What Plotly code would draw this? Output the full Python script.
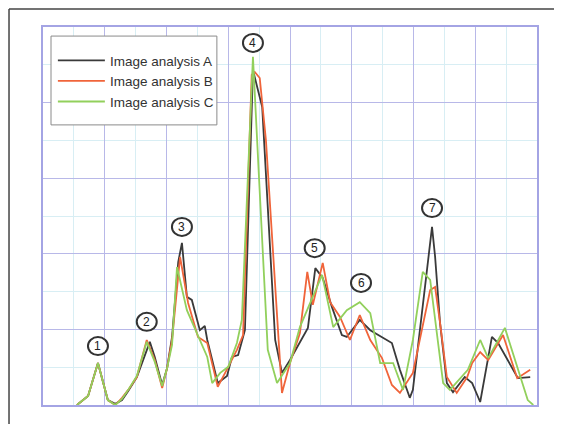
import plotly.graph_objects as go

# ---- data (x: 0..80 horizontal units, y: 0..100 signal units) ----
names = ["Image analysis A", "Image analysis B", "Image analysis C"]

a_x = [5.5, 7.3, 8.9, 10.5, 11.7, 12.8, 13.8, 15.2, 17.3, 18.1, 19.3, 20.1, 20.9, 21.9, 22.5,
       23.3, 24.1, 24.9, 25.4, 26.2, 26.6, 27.4, 28.3, 29.8, 30.6, 31.6, 32.7, 34.0, 35.5, 37.6,
       38.7, 40.0, 42.9, 44.1, 45.3, 46.8, 48.4, 49.2, 51.3, 53.0, 55.7, 56.5, 57.8, 59.4, 59.9,
       62.2, 63.0, 63.5, 64.3, 65.4, 66.4, 68.3, 69.5, 70.8, 72.1, 72.7, 73.7, 76.4, 76.9, 78.9]
a_y = [0, 2.4, 11.1, 1.3, 0.3, 1.3, 3.7, 7.4, 16.7, 12.7, 5.3, 9.8, 18.0, 37.8, 42.9,
       28.6, 27.8, 23.3, 19.8, 20.9, 17.2, 11.9, 5.8, 7.7, 12.7, 13.2, 19.8, 88.6, 78.8, 17.2,
       8.5, 11.9, 20.4, 36.2, 33.6, 25.9, 18.5, 18.0, 22.5, 19.8, 17.2, 16.4, 9.3, 1.9, 4.0,
       36.5, 47.1, 39.2, 21.7, 5.8, 3.4, 7.4, 5.8, 0.8, 11.9, 18.0, 16.4, 8.5, 7.1, 7.4]

b_x = [5.5, 7.3, 8.9, 10.5, 11.7, 12.8, 13.8, 15.2, 16.8, 18.1, 19.3, 20.1, 20.9, 22.2, 23.5,
       25.1, 26.6, 28.3, 30.0, 31.4, 32.4, 33.8, 34.3, 35.1, 36.1, 38.7, 40.0, 41.6, 42.8, 43.7,
       45.3, 46.5, 48.1, 49.7, 51.3, 53.0, 54.9, 56.5, 57.8, 59.9, 62.7, 63.5, 64.3, 65.4, 67.0,
       68.7, 69.5, 70.8, 72.1, 74.5, 76.8, 78.9]
b_y = [0, 2.4, 11.1, 1.3, 0, 1.9, 4.0, 7.4, 17.2, 11.9, 4.5, 9.8, 17.2, 39.2, 27.0,
       18.0, 16.4, 4.8, 10.1, 14.6, 18.5, 87.3, 88.1, 86.5, 70.1, 3.2, 11.1, 19.0, 35.2, 26.5,
       37.6, 27.2, 23.3, 17.2, 23.8, 17.2, 12.4, 5.3, 3.2, 8.5, 30.4, 31.2, 21.7, 7.4, 3.2,
       7.4, 11.1, 14.0, 11.9, 18.5, 7.1, 9.3]

c_x = [5.5, 7.3, 8.9, 10.5, 11.7, 12.8, 13.8, 15.2, 16.8, 18.1, 19.3, 20.1, 20.9, 21.7, 23.3,
       24.9, 26.6, 27.4, 28.7, 30.0, 31.4, 32.2, 34.0, 35.0, 36.4, 37.9, 40.0, 41.6, 43.7, 45.2,
       47.0, 49.2, 51.3, 53.0, 54.6, 56.7, 58.3, 59.9, 61.5, 62.7, 64.8, 65.9, 68.8, 70.8, 72.1,
       74.8, 78.5, 79.4]
c_y = [0, 2.4, 11.1, 1.3, 0, 1.6, 4.0, 7.7, 16.7, 11.4, 5.0, 9.8, 15.9, 36.5, 25.1,
       19.0, 12.7, 5.8, 8.5, 10.1, 16.4, 22.5, 92.1, 59.5, 14.6, 5.8, 11.1, 20.6, 28.6, 34.4,
       20.6, 25.1, 27.2, 24.3, 11.1, 11.1, 4.0, 17.2, 35.2, 33.1, 5.8, 4.0, 9.3, 17.2, 12.4,
       20.4, 1.3, 0]

peak_labels = ["1", "2", "3", "4", "5", "6", "7"]
peak_x = [8.9, 16.8, 22.5, 34.0, 44.0, 51.5, 63.0]
peak_y = [15.6, 22.0, 47.1, 95.8, 41.5, 32.3, 52.1]

colors = ["#3a3a3a", "#f0643a", "#92d05c"]

fig = go.Figure()
for nm, xs, ys, col in zip(names, [a_x, b_x, c_x], [a_y, b_y, c_y], colors):
    fig.add_trace(go.Scatter(x=xs, y=ys, mode="lines", name=nm,
                             line=dict(color=col, width=1.8)))

shapes = []
annotations = []
for lab, px, py in zip(peak_labels, peak_x, peak_y):
    shapes.append(dict(type="circle", xref="x", yref="y", xsizemode="pixel", ysizemode="pixel",
                       xanchor=px, yanchor=py, x0=-10, x1=10, y0=-9, y1=9,
                       line=dict(color="#333333", width=2), fillcolor="white"))
    annotations.append(dict(x=px, y=py, xref="x", yref="y", text=lab, showarrow=False,
                            font=dict(family="Liberation Sans", size=12, color="#222222")))

# legend box
shapes.append(dict(type="rect", xref="paper", yref="paper", x0=0.0162, x1=0.352,
                   y0=0.741, y1=0.976, layer="above", fillcolor="white",
                   line=dict(color="#8a8a8a", width=1)))

# outer frame (left and top edges)
shapes.append(dict(type="line", xref="paper", yref="paper", x0=-0.0688, x1=-0.0688,
                   y0=1.0476, y1=-0.06, line=dict(color="#444444", width=1.5)))
shapes.append(dict(type="line", xref="paper", yref="paper", x0=-0.0688, x1=1.06,
                   y0=1.0476, y1=1.0476, line=dict(color="#444444", width=1.5)))

axis_common = dict(showticklabels=False, ticks="", zeroline=False, showgrid=True,
                   gridcolor="#b8b8e8", gridwidth=1, showline=True, linecolor="#a4a4e4",
                   linewidth=2, mirror=True)
fig.update_layout(
    width=554, height=416,
    margin=dict(l=35, r=25, t=19, b=19),
    paper_bgcolor="white", plot_bgcolor="white",
    xaxis=dict(range=[0, 80], dtick=10, tick0=0,
               minor=dict(dtick=5, showgrid=True, gridcolor="#d8eef4", gridwidth=1),
               **axis_common),
    yaxis=dict(range=[0, 100], dtick=20, tick0=0,
               minor=dict(dtick=10, showgrid=True, gridcolor="#d8eef4", gridwidth=1),
               **axis_common),
    legend=dict(x=0.02, y=0.952, xanchor="left", yanchor="top", itemwidth=47,
                bgcolor="rgba(0,0,0,0)", borderwidth=0,
                font=dict(family="Liberation Sans", size=13.5, color="#333333")),
    shapes=shapes, annotations=annotations, showlegend=True,
)
fig.write_html("out.html")
